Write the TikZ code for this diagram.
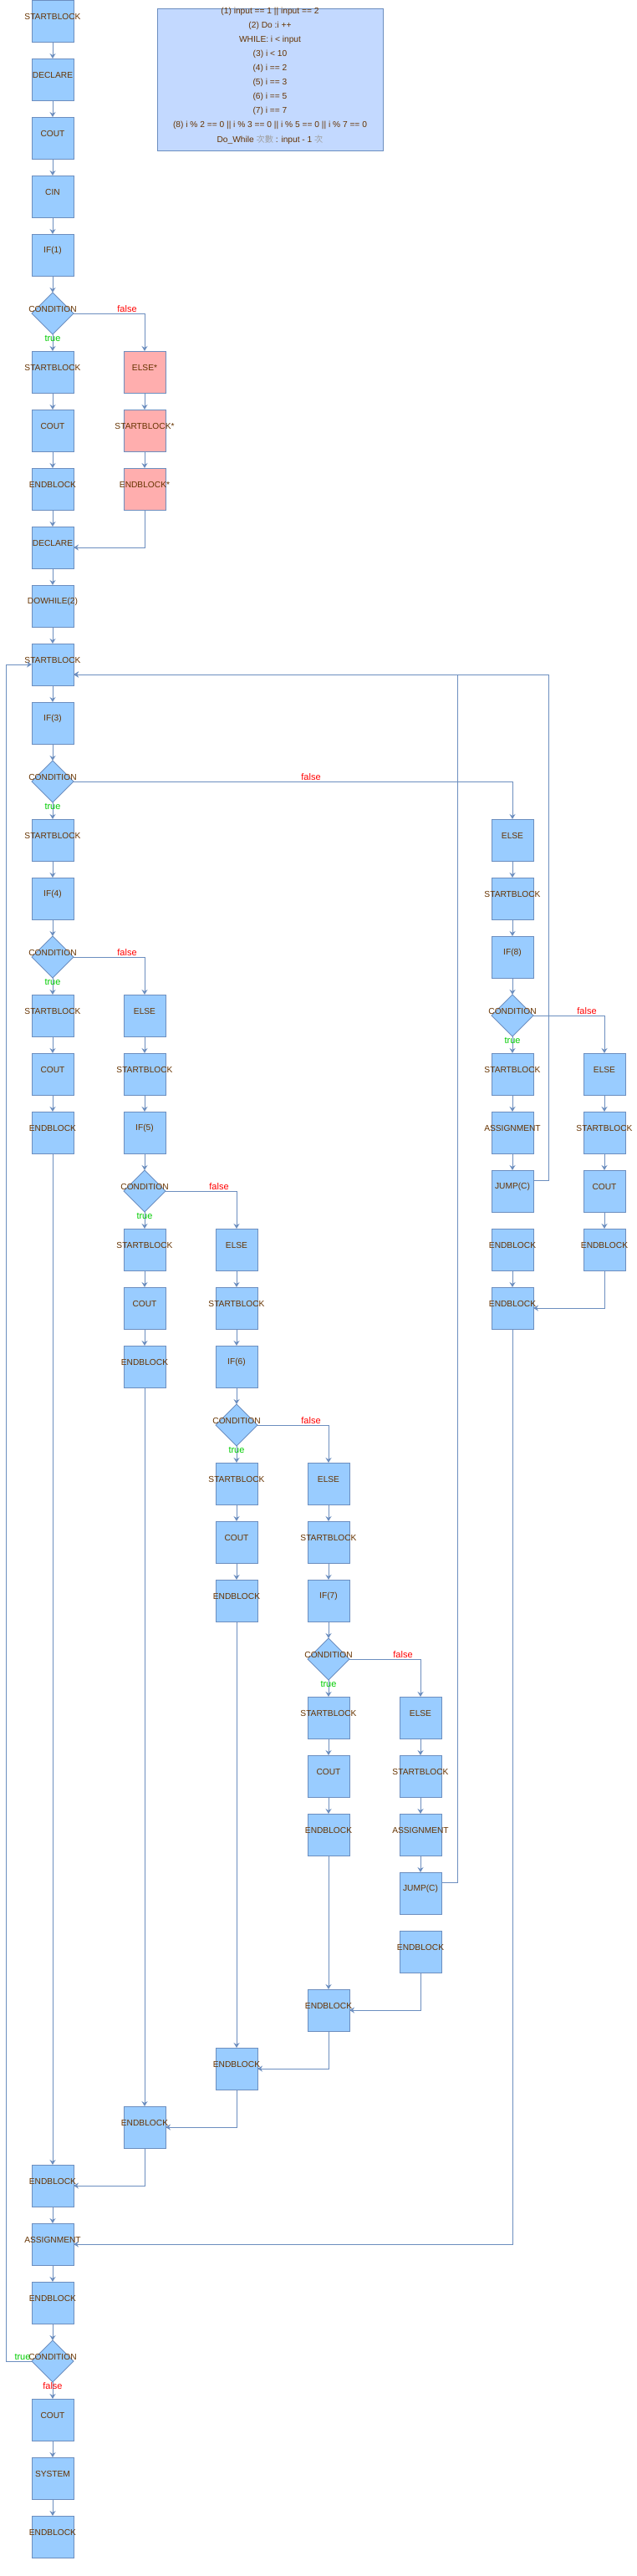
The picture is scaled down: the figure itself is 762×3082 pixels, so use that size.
\documentclass[tikz,border=0pt]{standalone}
\usepackage{fontspec}
\setmainfont{Liberation Sans}
\newfontfamily\cjk{Noto Sans CJK TC}
\usetikzlibrary{shapes.geometric,arrows.meta}
\definecolor{bfill}{HTML}{99CCFF}
\definecolor{bline}{HTML}{6C8EBF}
\definecolor{pfill}{HTML}{FFAEAE}
\definecolor{lfill}{HTML}{C3D9FF}
\definecolor{tbrown}{HTML}{663300}
\definecolor{tgreen}{HTML}{00CC00}
\definecolor{tred}{HTML}{FF0000}
\definecolor{tgrey}{HTML}{A0A0A0}
\newcommand\bx[4]{\node[#1,label={[txt]center:#4}] (#2) at (#3) {};}
\begin{document}
\begin{tikzpicture}[x=1pt,y=-1pt,
 every node/.style={font=\fontsize{10.2}{12}\selectfont},
 blk/.style={draw=bline,fill=bfill,line width=1pt,minimum width=50pt,minimum height=50pt,inner sep=0pt,outer sep=0pt},
 pblk/.style={blk,fill=pfill},
 dia/.style={blk,diamond,aspect=1},
 txt/.style={text=tbrown,yshift=5pt,inner sep=0pt},
 conn/.style={draw=bline,line width=1pt,-{Stealth[length=6pt,width=7pt,inset=2pt]}},
 tlab/.style={text=tgreen,inner sep=0pt,font=\fontsize{11}{12}\selectfont},
 flab/.style={text=tred,inner sep=0pt,font=\fontsize{11}{12}\selectfont},
 legtxt/.style={text=tbrown,inner sep=0pt},
]
\useasboundingbox (0,0) rectangle (762,3082);
% legend
\node[draw=bline,fill=lfill,line width=1pt,minimum width=270pt,minimum height=170pt,inner sep=0pt] (leg) at (323,95) {};
\node[legtxt] (l1) at (323,14) {(1) input == 1 || input == 2};
\node[legtxt] (l2) at (323,31) {(2) Do :i ++};
\node[legtxt] (l3) at (323,48) {WHILE: i < input};
\node[legtxt] (l4) at (323,65) {(3) i < 10};
\node[legtxt] (l5) at (323,82) {(4) i == 2};
\node[legtxt] (l6) at (323,99) {(5) i == 3};
\node[legtxt] (l7) at (323,116) {(6) i == 5};
\node[legtxt] (l8) at (323,133) {(7) i == 7};
\node[legtxt] (l9) at (323,150) {(8) i \% 2 == 0 || i \% 3 == 0 || i \% 5 == 0 || i \% 7 == 0};
\node[legtxt] (l10) at (323,167) {Do\_While {\cjk\color{tgrey}次數} : input - 1 {\cjk\color{tgrey}次}};
% column 1
\bx{blk}{a0}{63,25}{STARTBLOCK}
\bx{blk}{a1}{63,95}{DECLARE}
\bx{blk}{a2}{63,165}{COUT}
\bx{blk}{a3}{63,235}{CIN}
\bx{blk}{a4}{63,305}{IF(1)}
\bx{dia}{a5}{63,375}{CONDITION}
\bx{blk}{a6}{63,445}{STARTBLOCK}
\bx{blk}{a7}{63,515}{COUT}
\bx{blk}{a8}{63,585}{ENDBLOCK}
\bx{blk}{a9}{63,655}{DECLARE}
\bx{blk}{a10}{63,725}{DOWHILE(2)}
\bx{blk}{a11}{63,795}{STARTBLOCK}
\bx{blk}{a12}{63,865}{IF(3)}
\bx{dia}{a13}{63,935}{CONDITION}
\bx{blk}{a14}{63,1005}{STARTBLOCK}
\bx{blk}{a15}{63,1075}{IF(4)}
\bx{dia}{a16}{63,1145}{CONDITION}
\bx{blk}{a17}{63,1215}{STARTBLOCK}
\bx{blk}{a18}{63,1285}{COUT}
\bx{blk}{a19}{63,1355}{ENDBLOCK}
\bx{blk}{a37}{63,2615}{ENDBLOCK}
\bx{blk}{a38}{63,2685}{ASSIGNMENT}
\bx{blk}{a39}{63,2755}{ENDBLOCK}
\bx{dia}{a40}{63,2825}{CONDITION}
\bx{blk}{a41}{63,2895}{COUT}
\bx{blk}{a42}{63,2965}{SYSTEM}
\bx{blk}{a43}{63,3035}{ENDBLOCK}
% column 2
\bx{pblk}{b6}{173,445}{ELSE*}
\bx{pblk}{b7}{173,515}{STARTBLOCK*}
\bx{pblk}{b8}{173,585}{ENDBLOCK*}
\bx{blk}{b17}{173,1215}{ELSE}
\bx{blk}{b18}{173,1285}{STARTBLOCK}
\bx{blk}{b19}{173,1355}{IF(5)}
\bx{dia}{b20}{173,1425}{CONDITION}
\bx{blk}{b21}{173,1495}{STARTBLOCK}
\bx{blk}{b22}{173,1565}{COUT}
\bx{blk}{b23}{173,1635}{ENDBLOCK}
\bx{blk}{b36}{173,2545}{ENDBLOCK}
% column 3
\bx{blk}{c21}{283,1495}{ELSE}
\bx{blk}{c22}{283,1565}{STARTBLOCK}
\bx{blk}{c23}{283,1635}{IF(6)}
\bx{dia}{c24}{283,1705}{CONDITION}
\bx{blk}{c25}{283,1775}{STARTBLOCK}
\bx{blk}{c26}{283,1845}{COUT}
\bx{blk}{c27}{283,1915}{ENDBLOCK}
\bx{blk}{c35}{283,2475}{ENDBLOCK}
% column 4
\bx{blk}{d25}{393,1775}{ELSE}
\bx{blk}{d26}{393,1845}{STARTBLOCK}
\bx{blk}{d27}{393,1915}{IF(7)}
\bx{dia}{d28}{393,1985}{CONDITION}
\bx{blk}{d29}{393,2055}{STARTBLOCK}
\bx{blk}{d30}{393,2125}{COUT}
\bx{blk}{d31}{393,2195}{ENDBLOCK}
\bx{blk}{d34}{393,2405}{ENDBLOCK}
% column 5
\bx{blk}{e29}{503,2055}{ELSE}
\bx{blk}{e30}{503,2125}{STARTBLOCK}
\bx{blk}{e31}{503,2195}{ASSIGNMENT}
\bx{blk}{e32}{503,2265}{JUMP(C)}
\bx{blk}{e33}{503,2335}{ENDBLOCK}
% column 6
\bx{blk}{f14}{613,1005}{ELSE}
\bx{blk}{f15}{613,1075}{STARTBLOCK}
\bx{blk}{f16}{613,1145}{IF(8)}
\bx{dia}{f17}{613,1215}{CONDITION}
\bx{blk}{f18}{613,1285}{STARTBLOCK}
\bx{blk}{f19}{613,1355}{ASSIGNMENT}
\bx{blk}{f20}{613,1425}{JUMP(C)}
\bx{blk}{f21}{613,1495}{ENDBLOCK}
\bx{blk}{f22}{613,1565}{ENDBLOCK}
% column 7
\bx{blk}{g18}{723,1285}{ELSE}
\bx{blk}{g19}{723,1355}{STARTBLOCK}
\bx{blk}{g20}{723,1425}{COUT}
\bx{blk}{g21}{723,1495}{ENDBLOCK}
% helper coordinates
\coordinate (k1) at (7,795);
\coordinate (k5) at (547,807);
\coordinate (k6) at (656,807);
% straight connectors
\foreach \u/\v in {a0/a1,a1/a2,a2/a3,a3/a4,a4/a5,a5/a6,a6/a7,a7/a8,a8/a9,a9/a10,a10/a11,a11/a12,a12/a13,a13/a14,a14/a15,a15/a16,a16/a17,a17/a18,a18/a19,a19/a37,a37/a38,a38/a39,a39/a40,a40/a41,a41/a42,a42/a43,
 b6/b7,b7/b8,b17/b18,b18/b19,b19/b20,b20/b21,b21/b22,b22/b23,b23/b36,
 c21/c22,c22/c23,c23/c24,c24/c25,c25/c26,c26/c27,c27/c35,
 d25/d26,d26/d27,d27/d28,d28/d29,d29/d30,d30/d31,d31/d34,
 e29/e30,e30/e31,e31/e32,
 f14/f15,f15/f16,f16/f17,f17/f18,f18/f19,f19/f20,f21/f22,
 g18/g19,g19/g20,g20/g21}
 \draw[conn] (\u) -- (\v);
% branches
\draw[conn] (a5.east) -| (b6.north);
\draw[conn] (a13.east) -| (f14.north);
\draw[conn] (a16.east) -| (b17.north);
\draw[conn] (b20.east) -| (c21.north);
\draw[conn] (c24.east) -| (d25.north);
\draw[conn] (d28.east) -| (e29.north);
\draw[conn] (f17.east) -| (g18.north);
% merges
\draw[conn] (b8.south) |- (a9.east);
\draw[conn] (g21.south) |- (f22.east);
\draw[conn] (f22.south) |- (a38.east);
\draw[conn] (e33.south) |- (d34.east);
\draw[conn] (d34.south) |- (c35.east);
\draw[conn] (c35.south) |- (b36.east);
\draw[conn] (b36.south) |- (a37.east);
% jumps and loop
\draw[conn] ([yshift=-12pt]f20.north east) -| (k6) -- (a11.east |- k6);
\draw[conn] ([yshift=-12pt]e32.north east) -| (k5) -- (a11.east |- k5);
\draw[conn] (a40.west) -| (k1) -- (a11.west);
% labels
\node[flab] (fa5) at (152,370) {false};
\node[tlab] (ta5) at (63,405) {true};
\node[flab] (fa13) at (372,930) {false};
\node[tlab] (ta13) at (63,965) {true};
\node[flab] (fa16) at (152,1140) {false};
\node[tlab] (ta16) at (63,1175) {true};
\node[flab] (fb20) at (262,1420) {false};
\node[tlab] (tb20) at (173,1455) {true};
\node[flab] (fc24) at (372,1700) {false};
\node[tlab] (tc24) at (283,1735) {true};
\node[flab] (fd28) at (482,1980) {false};
\node[tlab] (td28) at (393,2015) {true};
\node[flab] (ff17) at (702,1210) {false};
\node[tlab] (tf17) at (613,1245) {true};
\node[tlab] (ta40) at (27,2820) {true};
\node[flab] (fa40) at (63,2855) {false};
\end{tikzpicture}
\end{document}
